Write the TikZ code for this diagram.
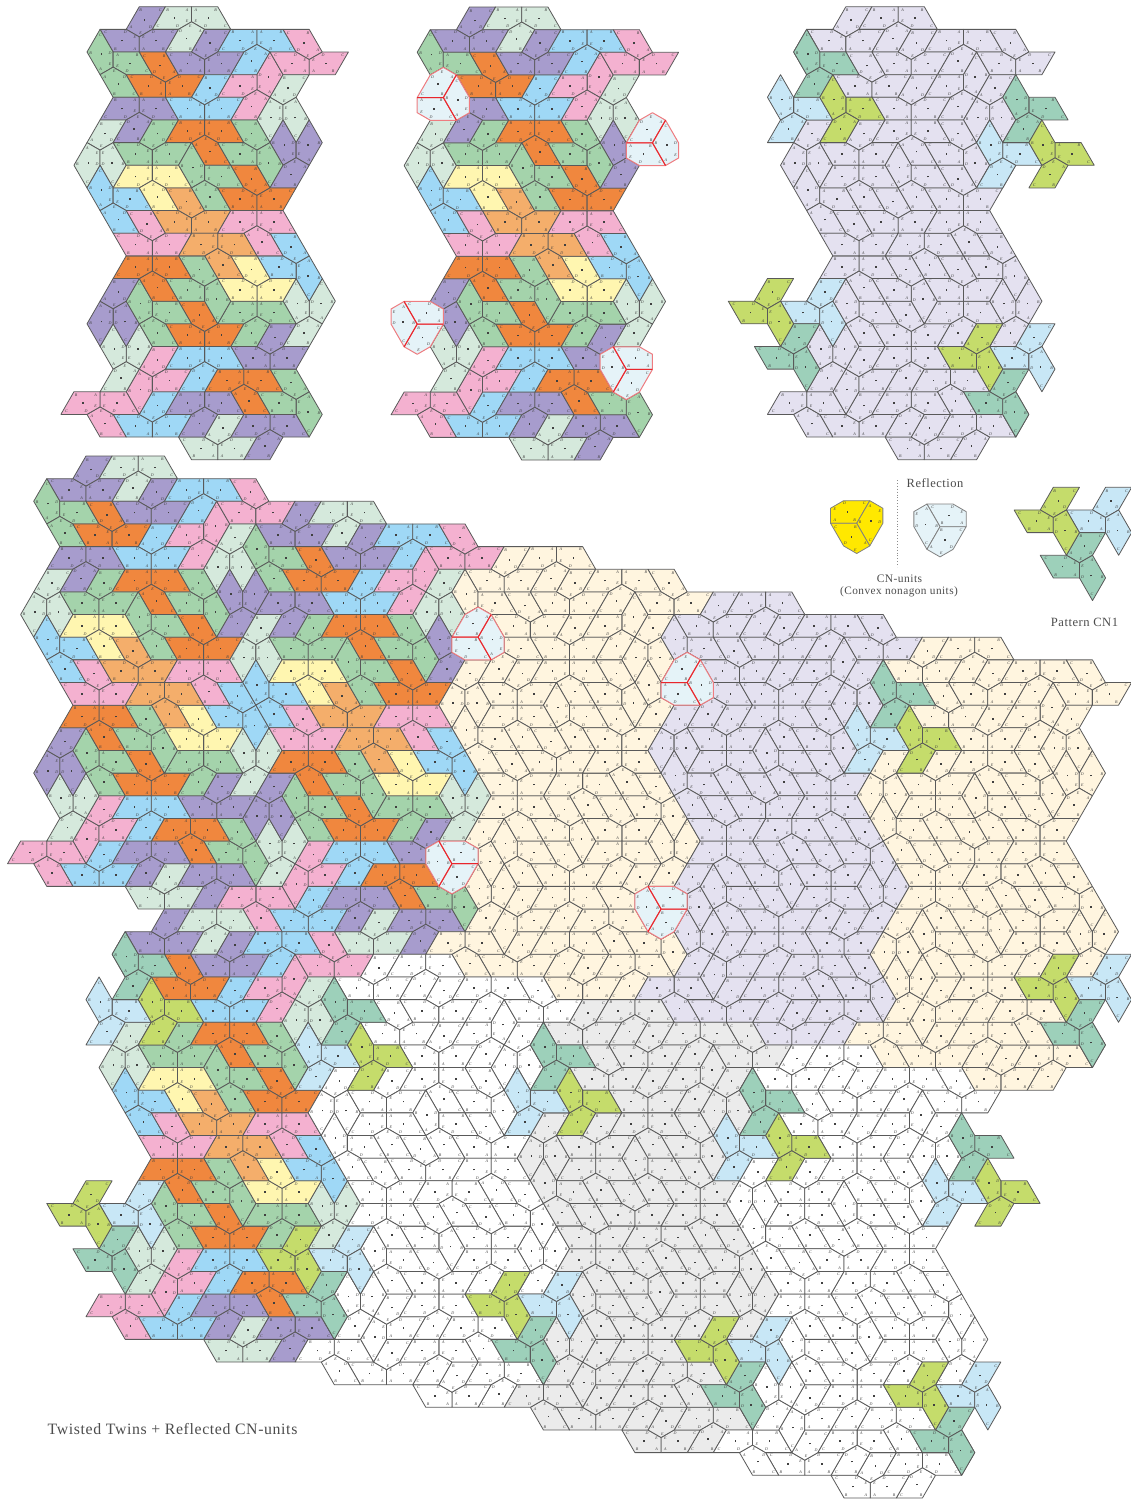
\documentclass[tikz,border=0pt]{standalone}
\usepackage{fontspec}
\setmainfont{Liberation Serif}
\newfontfamily\capf[LetterSpace=4]{Liberation Serif}
\font\ltf="Liberation Serif/I" at 4pt
\definecolor{rawP}{HTML}{A79CCD}
\definecolor{rawL}{HTML}{D5E9DC}
\definecolor{rawG}{HTML}{A4D3AB}
\definecolor{rawO}{HTML}{F0873E}
\definecolor{rawB}{HTML}{9FD8F6}
\definecolor{rawK}{HTML}{F4B1D0}
\definecolor{rawY}{HTML}{FFF6B0}
\definecolor{rawA}{HTML}{F4AE6B}
\definecolor{lav}{HTML}{E4E1F0}
\definecolor{cream}{HTML}{FFF5DF}
\definecolor{pgray}{HTML}{EBEBEB}
\definecolor{olive}{HTML}{C5DC6B}
\definecolor{teal2}{HTML}{9DD0BA}
\definecolor{pale}{HTML}{C8E7F6}
\definecolor{redfill}{HTML}{E5F3F8}
\definecolor{legyel}{HTML}{FFE800}
\definecolor{redline}{HTML}{E8262C}
\definecolor{redsoft}{HTML}{EE7C80}
\definecolor{ltc}{gray}{0.25}
\definecolor{capc}{gray}{0.3}
\newdimen\ox \newdimen\oy \newdimen\hx \newdimen\hy
\hx=13.07pt \hy=22.65pt
\newcount\Ax \newcount\Ay \newcount\Ba \newcount\Bb \newcount\Ca \newcount\Cb \newcount\Cx \newcount\Cy
\def\Dx#1{\ifcase#1 2\or 1\or -1\or -2\or -1\or 1\fi}
\def\Dy#1{\ifcase#1 0\or 1\or 1\or 0\or -1\or -1\fi}
\def\Fl#1{\ifcase#1 3\or 4\or 5\or 0\or 1\or 2\fi}
\def\XX#1{\the\dimexpr\ox+\hx*\numexpr#1\relax/30\relax}
\def\YY#1{\the\dimexpr\oy-\hy*\numexpr#1\relax/30\relax}
\def\YL#1{\the\dimexpr\oy-1.3pt-\hy*\numexpr#1\relax/30\relax}
\def\vlab#1#2#3{\rlap{\kern\XX{(75*(#1)+25*\Cx)/100}\raise\YL{(75*(#2)+25*\Cy)/100}\hbox to 0pt{\hss\ltf #3\hss}}}
\def\dotm{\rlap{\kern\XX{\Cx}\raise\YY{\Cy}\hbox to 0pt{\hss\vrule width1.6pt height.8pt depth.8pt\hss}}}
\tikzset{tileshape/.style={draw=black!65,line width=.8pt,line join=round},
  redshape/.style={draw=redsoft,line width=1pt,line join=round},
  grayshape/.style={draw=black!50,line width=.8pt,line join=round}}
\newcommand\tilest[6]{%
  \Ax=\numexpr30*(#3)\relax \Ay=\numexpr30*(#4)\relax
  \Ba=\Dx{#5}\relax \Bb=\Dy{#5}\relax \Ca=\Dx{#6}\relax \Cb=\Dy{#6}\relax
  \Cx=\numexpr\Ax+15*\Ba+18*\Ca\relax \Cy=\numexpr\Ay+15*\Bb+18*\Cb\relax
  \path[#1,fill=#2]
    (\XX{\Ax},\YY{\Ay})
    --(\XX{\Ax+30*\Ba},\YY{\Ay+30*\Bb})
    --(\XX{\Ax+30*\Ba+30*\Ca},\YY{\Ay+30*\Bb+30*\Cb})
    --(\XX{\Ax+20*\Ba+40*\Ca},\YY{\Ay+20*\Bb+40*\Cb})
    --(\XX{\Ax+30*\Ca},\YY{\Ay+30*\Cb})--cycle;
  \pgftext[left,base,at={\pgfpointorigin}]{\color{ltc}\dotm
  \vlab{\Ax}{\Ay}{B}%
  \vlab{\Ax+30*\Ba}{\Ay+30*\Bb}{C}%
  \vlab{\Ax+30*\Ba+30*\Ca}{\Ay+30*\Bb+30*\Cb}{D}%
  \vlab{\Ax+20*\Ba+40*\Ca}{\Ay+20*\Bb+40*\Cb}{E}%
  \vlab{\Ax+30*\Ca}{\Ay+30*\Cb}{A}}%
}
\newcommand\tile[5]{\tilest{tileshape}{#1}{#2}{#3}{#4}{#5}}
\newcommand\HT[5]{\tile{#1}{#2}{#3}{#4}{#5}\tile{#1}{18-(#2)}{20-(#3)}{\Fl{#4}}{\Fl{#5}}}
\newcommand\setall[1]{\colorlet{cP}{#1}\colorlet{cL}{#1}\colorlet{cG}{#1}\colorlet{cO}{#1}\colorlet{cB}{#1}\colorlet{cK}{#1}\colorlet{cY}{#1}\colorlet{cA}{#1}}
\newcommand\setraw{\colorlet{cP}{rawP}\colorlet{cL}{rawL}\colorlet{cG}{rawG}\colorlet{cO}{rawO}\colorlet{cB}{rawB}\colorlet{cK}{rawK}\colorlet{cY}{rawY}\colorlet{cA}{rawA}}
\newcommand\setorigin[2]{\ox=#1pt \oy=-#2pt }
\newcommand\patchdata{%
\HT{cP}{4}{0}{0}{2}\HT{cL}{6}{0}{2}{0}\HT{cL}{10}{0}{1}{3}
\HT{cP}{2}{2}{4}{0}\HT{cP}{6}{2}{5}{3}\HT{cL}{8}{2}{3}{5}\HT{cP}{9}{1}{0}{2}
\HT{cB}{11}{1}{2}{0}\HT{cB}{15}{1}{1}{3}\HT{cK}{17}{1}{3}{1}\HT{cB}{13}{3}{3}{5}
\HT{cG}{0}{2}{5}{1}\HT{cG}{4}{2}{1}{3}\HT{cG}{2}{4}{0}{4}\HT{cO}{6}{2}{3}{1}
\HT{cP}{7}{3}{4}{0}\HT{cP}{11}{3}{5}{3}\HT{cK}{15}{3}{4}{2}\HT{cK}{11}{3}{2}{0}
\HT{cK}{13}{5}{3}{5}\HT{cK}{15}{3}{4}{0}\HT{cK}{19}{3}{5}{3}\HT{cL}{15}{3}{0}{2}
\HT{cO}{4}{4}{4}{0}\HT{cO}{8}{4}{5}{3}\HT{cB}{9}{3}{0}{2}
\HT{cP}{2}{4}{2}{0}\HT{cP}{6}{4}{1}{3}\HT{cB}{7}{5}{4}{0}\HT{cB}{11}{5}{5}{3}
\HT{cL}{13}{5}{1}{5}\HT{cL}{17}{5}{2}{4}
\HT{cL}{1}{5}{0}{2}\HT{cP}{4}{6}{3}{5}\HT{cG}{5}{5}{0}{2}\HT{cO}{7}{5}{2}{0}
\HT{cO}{11}{5}{1}{3}\HT{cG}{13}{5}{3}{1}\HT{cP}{14}{6}{5}{1}\HT{cP}{18}{6}{4}{2}
\HT{cL}{-1}{7}{1}{5}\HT{cL}{3}{7}{2}{4}\HT{cG}{3}{7}{4}{0}\HT{cG}{7}{7}{5}{3}
\HT{cO}{9}{7}{0}{4}\HT{cG}{11}{7}{4}{0}\HT{cG}{15}{7}{2}{4}\HT{cG}{7}{7}{5}{1}
\HT{cY}{3}{7}{2}{0}\HT{cY}{7}{7}{1}{3}\HT{cG}{11}{7}{1}{3}\HT{cO}{13}{7}{3}{1}
\HT{cP}{16}{8}{3}{5}\HT{cB}{0}{8}{5}{1}
\HT{cB}{4}{8}{1}{3}\HT{cY}{5}{9}{0}{4}\HT{cA}{8}{8}{3}{1}\HT{cG}{9}{9}{0}{4}
\HT{cO}{11}{9}{4}{0}\HT{cO}{15}{9}{5}{3}\HT{cB}{2}{10}{0}{4}
\HT{cK}{5}{9}{3}{1}\HT{cA}{6}{10}{4}{0}\HT{cA}{10}{10}{5}{3}\HT{cK}{11}{9}{2}{0}\HT{cK}{15}{9}{1}{3}}
\newcommand\patchat[2]{\setorigin{#1}{#2}\patchdata}
\newcommand\lpatch[2]{\ox=\dimexpr33.7pt+13.07pt*#1\relax \oy=\dimexpr-456pt-22.65pt*#2\relax \patchdata}
% triad units
\newcommand\unitA[3]{\tile{#1}{#2}{#3}{0}{2}\tile{#1}{#2-2}{#3+2}{4}{0}\tile{#1}{#2+2}{#3+2}{2}{4}}
\newcommand\unitB[3]{\tile{#1}{#2}{#3}{3}{5}\tile{#1}{#2+2}{#3-2}{1}{3}\tile{#1}{#2-2}{#3-2}{5}{1}}
\newcommand\patA[2]{\unitA{pale}{#1+4}{#2}\unitA{teal2}{#1+2}{#2+2}\unitA{olive}{#1}{#2}}
\newcommand\patB[2]{\unitB{pale}{#1-4}{#2}\unitB{teal2}{#1-2}{#2-2}\unitB{olive}{#1}{#2}}
% red nonagon units
\newcommand\spokes[5]{\draw[redline,line width=1pt] (\XX{30*(#1)+30*(\Dx{#3})},\YY{30*(#2)+30*(\Dy{#3})})--(\XX{30*(#1)},\YY{30*(#2)})--(\XX{30*(#1)+30*(\Dx{#4})},\YY{30*(#2)+30*(\Dy{#4})}) (\XX{30*(#1)},\YY{30*(#2)})--(\XX{30*(#1)+30*(\Dx{#5})},\YY{30*(#2)+30*(\Dy{#5})});}
\newcommand\redT[2]{\tilest{redshape}{redfill}{#1}{#2}{3}{5}\tilest{redshape}{redfill}{#1}{#2}{5}{1}\tilest{redshape}{redfill}{#1}{#2}{1}{3}\spokes{#1}{#2}{3}{5}{1}}
\newcommand\redS[2]{\tilest{redshape}{redfill}{#1}{#2}{0}{2}\tilest{redshape}{redfill}{#1}{#2}{2}{4}\tilest{redshape}{redfill}{#1}{#2}{4}{0}\spokes{#1}{#2}{4}{0}{2}}
\begin{document}
\begin{tikzpicture}[x=1pt,y=1pt]
\useasboundingbox (0,-1499) rectangle (1131,0);
% top row panels
\setraw
\patchat{87}{6.7}
\patchat{417.2}{7}
\setorigin{417.2}{7}
\redT{2}{4}\redT{18}{6}\redS{0}{14}\redS{16}{16}
\setall{lav}
\patchat{793.6}{6.7}
\setorigin{793.6}{6.7}
\patB{4}{6}\patB{20}{8}\patA{14}{14}\patA{-2}{12}
% big figure
\setraw
\lpatch{0}{0}\lpatch{16}{2}
\setall{cream}\lpatch{32}{4}
\setall{lav}\lpatch{48}{6}
\setall{cream}\lpatch{64}{8}
\setraw\lpatch{6}{20}
\setall{white}\lpatch{22}{22}
\setall{pgray}\lpatch{38}{24}
\setall{white}\lpatch{54}{26}
\ox=33.7pt \oy=-456pt
\redT{34}{8}\redT{50}{10}\redS{32}{18}\redS{48}{20}
\patB{68}{14}\patA{78}{22}
\patB{10}{26}\patB{26}{28}\patB{42}{30}\patB{58}{32}\patB{74}{34}
\patA{4}{32}\patA{20}{34}\patA{36}{36}\patA{52}{38}\patA{68}{40}
% legend
\ox=856.7pt \oy=-523.3pt
\tilest{grayshape}{legyel}{0}{0}{5}{3}\tilest{grayshape}{legyel}{0}{0}{1}{5}\tilest{grayshape}{legyel}{0}{0}{3}{1}
\ox=940pt \oy=-526.7pt
\tilest{grayshape}{redfill}{0}{0}{4}{0}\tilest{grayshape}{redfill}{0}{0}{2}{4}\tilest{grayshape}{redfill}{0}{0}{0}{2}
\ox=1053.3pt \oy=-487.3pt
\patA{0}{0}
\coordinate (dottop) at (897.7,-480);
\coordinate (dotbot) at (897.7,-567);
\draw[black!45,line width=.9pt,dotted] (dottop)--(dotbot);
\node[text=capc,font=\capf\fontsize{12.5}{14}\selectfont] (reflabel) at (935,-482.7) {Reflection};
\node[text=capc,font=\capf\fontsize{11.5}{13}\selectfont] (cnlabel) at (899.5,-579) {CN-units};
\node[text=capc,font=\capf\fontsize{11.3}{13}\selectfont] (cnlong) at (899,-591.7) {(Convex nonagon units)};
\node[text=capc,font=\capf\fontsize{12.6}{14}\selectfont] (patlabel) at (1084.5,-622) {Pattern CN1};
\node[text=capc,font=\capf\fontsize{15.8}{18}\selectfont,anchor=west,inner sep=0pt] (title) at (47.5,-1429) {Twisted Twins + Reflected CN-units};
\end{tikzpicture}
\end{document}
